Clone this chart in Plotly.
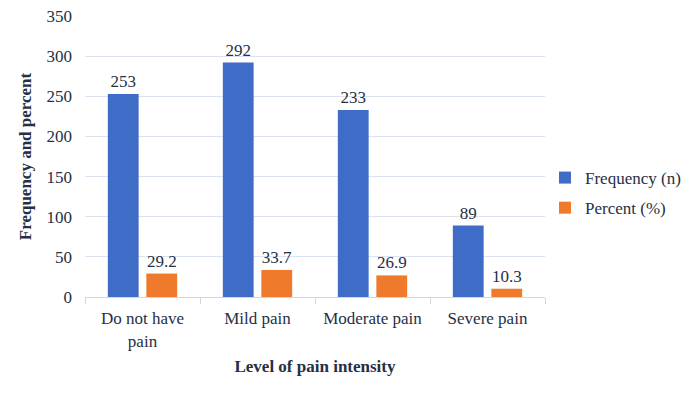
import plotly.graph_objects as go

categories = ["Do not have<br>pain", "Mild pain", "Moderate pain", "Severe pain"]
frequency = [253, 292, 233, 89]
percent = [29.2, 33.7, 26.9, 10.3]
y_ticks = [0, 50, 100, 150, 200, 250, 300, 350]

font_fam = "Times New Roman"
txt_col = "#263044"

fig = go.Figure()
fig.add_trace(go.Bar(
    x=categories, y=frequency, name="Frequency (n)", legendgroup="a",
    marker=dict(color="#3f6cc6", line=dict(width=0)),
    text=[str(v) for v in frequency], textposition="outside",
    textfont=dict(size=17, color=txt_col, family=font_fam), cliponaxis=False,
))
fig.add_trace(go.Bar(
    x=categories, y=percent, name="Percent (%)", legendgroup="b",
    marker=dict(color="#f07a2c", line=dict(width=0)),
    text=[f"{v:.1f}" for v in percent], textposition="outside",
    textfont=dict(size=17, color=txt_col, family=font_fam), cliponaxis=False,
))

fig.update_layout(
    width=700, height=393,
    margin=dict(l=77, r=163, t=8, b=104, autoexpand=False),
    paper_bgcolor="white", plot_bgcolor="white",
    font=dict(family=font_fam, size=17, color=txt_col),
    barmode="group", bargap=0.33, bargroupgap=0.2,
    showlegend=True,
    legend=dict(x=1.0, y=0.37, xanchor="left", yanchor="middle",
                font=dict(size=17, color=txt_col, family=font_fam),
                itemwidth=30, tracegroupgap=5, bgcolor="rgba(0,0,0,0)"),
    xaxis=dict(
        automargin=False,
        title=dict(text="<b>Level of pain intensity</b>", font=dict(size=17, color=txt_col, family=font_fam), standoff=10),
        showline=True, linecolor="#d0d6e2", linewidth=1,
        ticks="outside", tickson="boundaries", ticklen=6, tickcolor="#d0d6e2",
        ticklabelstandoff=6,
        tickfont=dict(size=17, color=txt_col, family=font_fam),
        showgrid=False,
    ),
    yaxis=dict(
        automargin=False,
        title=dict(text="<b>Frequency and percent</b>", font=dict(size=17, color=txt_col, family=font_fam), standoff=10),
        range=[0, 350], tickvals=y_ticks, ticktext=[str(v) for v in y_ticks],
        showgrid=True, gridcolor="#dce3f0", gridwidth=1,
        zeroline=False, showline=False,
        ticklabelstandoff=12, ticklabeloverflow="allow",
        tickfont=dict(size=17, color=txt_col, family=font_fam),
    ),
)

fig.write_html("out.html")
